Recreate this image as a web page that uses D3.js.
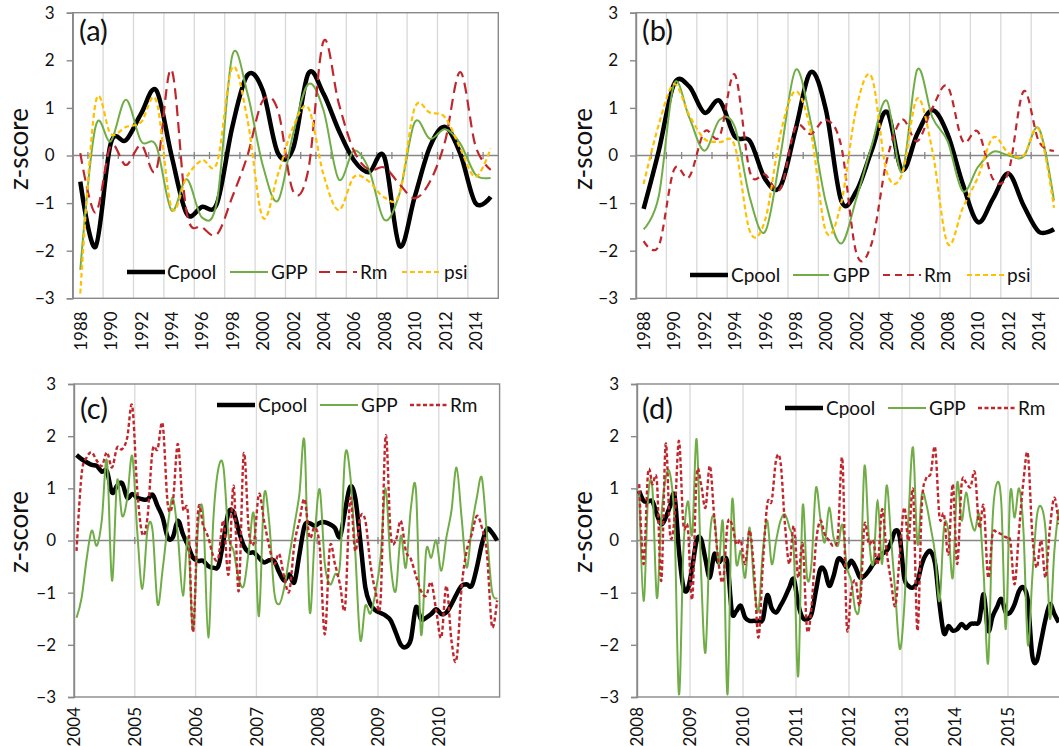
<!DOCTYPE html>
<html>
<head>
<meta charset="utf-8">
<script src="https://cdn.jsdelivr.net/npm/d3@7"></script>
<style>
  body { margin: 0; background: #fff; }
  svg { display: block; font-family: Lato, "Open Sans", sans-serif; }
</style>
</head>
<body>
<div id="chart"></div>
<script>
// ---- data ----
// annual z-scores, 1988..2015 (panels a and b)
var years = d3.range(1988, 2016);
var aCpool = [-0.55,-1.92,0.25,0.32,0.88,1.37,0.0,-1.22,-1.08,-1.0,0.6,1.69,1.37,0.05,0.15,1.72,1.3,0.53,-0.1,-0.35,-0.03,-1.9,-0.87,0.18,0.6,0.04,-1.0,-0.87];
var aGPP   = [-2.4,0.6,0.3,1.17,0.3,0.2,-1.15,-0.5,-1.3,-0.95,2.1,1.3,-0.2,-0.95,0.45,1.5,0.95,-0.5,0.1,-0.3,-1.35,-0.8,0.7,0.35,0.55,0.25,-0.4,-0.47];
var aRm    = [0.05,-1.2,0.2,-0.2,0.22,-0.3,1.8,-1.2,-1.5,-1.65,-0.87,0.0,1.15,0.95,-0.75,-0.3,2.4,1.1,0.1,-0.3,-0.25,-0.6,-0.9,-0.55,0.3,1.75,0.2,-0.3];
var aPsi   = [-2.9,1.1,0.45,0.6,0.7,1.15,-1.1,-0.45,-0.1,-0.15,1.85,0.75,-1.3,-0.4,0.6,1.0,-0.4,-1.15,-0.45,-0.55,-0.88,-0.8,1.0,0.9,0.8,0.15,-0.45,0.15];

var bCpool = [-1.12,0.1,1.5,1.45,0.9,1.15,0.4,0.3,-0.5,-0.65,0.55,1.75,0.95,-0.95,-0.75,0.1,0.92,-0.3,0.45,0.95,0.45,-0.6,-1.4,-0.9,-0.38,-1.05,-1.6,-1.55];
var bGPP   = [-1.55,-0.85,1.5,0.8,0.1,0.75,0.6,-0.9,-1.6,0.0,1.8,0.7,-1.0,-1.85,-0.9,0.2,1.15,-0.35,1.8,0.8,0.3,-0.75,-0.24,0.08,0.0,-0.02,0.57,-0.95];
var bRm    = [-1.8,-1.9,-0.3,-0.45,0.5,0.4,1.7,-0.35,-0.4,-0.7,0.6,0.45,0.75,0.2,-2.05,-1.85,-0.1,0.75,0.3,1.0,1.45,0.3,0.5,-0.5,-0.35,1.35,0.3,0.1];
var bPsi   = [-0.6,0.65,1.5,0.85,0.35,0.28,0.2,-1.6,-1.35,0.45,1.35,0.5,-1.6,-1.0,1.0,1.65,-0.35,-0.4,1.2,0.1,-1.85,-1.1,-0.45,0.38,0.05,0.0,0.55,-1.1];

// monthly z-scores, Jan 2004 .. Dec 2010 (panel c)
var cCpool = [1.64,1.56,1.5,1.45,1.43,1.32,1.33,0.92,1.05,1.1,0.82,0.89,0.82,0.79,0.79,0.88,0.66,0.44,0.06,0.06,0.38,0.12,-0.1,-0.33,
  -0.39,-0.39,-0.49,-0.52,-0.49,0.0,0.54,0.54,0.19,-0.1,-0.23,-0.23,-0.33,-0.42,-0.38,-0.39,-0.61,-0.77,-0.65,-0.8,-0.26,0.28,0.33,0.28,
  0.34,0.35,0.31,0.24,0.07,0.57,1.03,0.82,0.0,-0.9,-1.22,-1.34,-1.39,-1.44,-1.53,-1.76,-2.0,-2.04,-1.89,-1.28,-1.51,-1.48,-1.41,-1.32,
  -1.41,-1.38,-1.22,-1.03,-0.87,-0.84,-0.87,-0.52,-0.07,0.22,0.15,0.0];
var cGPP   = [-1.48,-1.1,-0.35,0.19,-0.1,0.4,1.53,-0.77,1.14,0.47,0.8,1.62,0.15,-0.93,0.2,0.2,-1.22,-0.55,0.28,0.82,0.1,-1.06,0.06,-1.73,
  0.3,0.5,-1.86,0.4,1.38,1.4,0.1,-0.2,-0.73,-0.87,-0.2,0.5,-1.45,0.85,0.38,-0.97,-1.22,-0.9,-0.3,0.3,0.9,1.88,-1.35,0.06,
  0.98,-0.45,-0.84,-0.65,-0.45,1.62,1.27,-0.2,-1.9,-1.25,-1.4,-1.0,-0.33,1.0,-0.45,-0.97,0.09,-0.52,0.63,0.95,-1.8,-0.2,-0.33,0.0,
  -0.58,0.06,0.57,1.4,0.44,-0.52,0.25,0.82,1.2,0.12,-0.97,-1.1];
var cRm    = [-0.2,1.27,1.59,1.69,1.53,1.43,1.69,1.4,1.78,1.75,1.97,2.58,0.95,0.12,0.44,1.72,1.75,2.23,0.7,0.73,1.85,0.63,0.5,-1.75,
  0.57,0.28,0.06,-0.3,-0.33,0.38,-0.65,1.05,-0.97,1.66,0.19,-0.04,0.89,0.38,-0.1,-0.45,-0.26,-0.71,-0.97,-0.07,0.38,0.79,0.06,0.25,
  -0.13,-1.8,-0.13,-0.45,-0.84,-1.28,0.8,-0.2,0.45,0.38,-0.45,-0.97,-1.16,2.0,0.12,0.0,0.38,-0.2,-0.36,-0.68,-0.97,-1.06,-0.8,-1.35,
  -1.86,-0.87,-1.92,-2.28,-0.9,-0.2,0.12,0.47,0.25,-0.26,-1.65,-1.15];

// monthly z-scores, Jan 2008 .. Dec 2015 (panel d)
var dCpool = [0.95,0.76,0.75,0.75,0.5,0.31,0.44,0.66,0.86,-0.2,-0.89,-0.93,-0.52,0.0,0.03,-0.36,-0.71,-0.26,-0.42,-0.33,-0.45,-1.38,-1.35,-1.25,
  -1.48,-1.54,-1.54,-1.54,-1.51,-1.05,-1.3,-1.38,-1.25,-1.09,-0.9,-0.74,-1.22,-1.48,-1.51,-1.41,-0.97,-0.55,-0.58,-0.87,-0.68,-0.36,-0.39,-0.52,
  -0.39,-0.52,-0.71,-0.68,-0.58,-0.45,-0.36,-0.26,-0.2,-0.04,0.19,0.06,-0.71,-0.87,-0.9,-0.79,-0.45,-0.26,-0.21,-0.45,-1.22,-1.78,-1.64,-1.73,
  -1.7,-1.6,-1.68,-1.6,-1.59,-1.54,-1.03,-1.73,-1.46,-1.28,-1.12,-1.38,-1.38,-1.22,-0.97,-0.9,-1.16,-2.21,-2.31,-1.92,-1.51,-1.22,-1.41,-1.57];
var dGPP   = [0.95,-1.16,0.82,0.98,-1.1,0.44,1.2,1.27,0.31,-2.95,-0.2,0.75,0.12,1.94,-0.58,-2.15,0.06,0.44,-0.45,0.3,-2.95,0.73,-0.45,-0.2,
  -0.71,0.25,-0.84,-1.35,-0.2,0.38,-0.45,0.0,0.38,0.5,0.25,-0.2,-2.6,0.65,-0.71,-0.45,1.0,0.44,-0.04,0.63,0.06,-0.1,0.3,-0.5,
  -0.77,-1.35,-1.09,1.42,0.06,-0.45,0.78,-0.45,1.05,0.06,-1.03,-2.08,-1.28,0.5,1.78,-0.07,0.89,0.7,0.25,-0.26,-1.16,0.25,0.19,-0.71,
  1.1,0.38,0.92,0.44,0.19,0.5,-0.65,-2.35,0.38,1.1,0.7,-1.7,0.9,0.44,1.0,0.19,-2.0,-0.71,0.44,0.65,0.2,-1.5,-0.2,0.6];
var dRm    = [1.08,-0.45,1.3,1.08,1.14,-0.77,1.85,0.12,0.44,1.91,0.31,0.25,-1.12,1.24,1.08,0.63,1.43,0.44,-0.45,-0.77,0.31,0.31,-0.07,0.0,
  -0.45,0.19,-0.58,-1.86,-0.45,0.7,0.76,1.55,1.5,0.31,-0.45,0.28,-0.71,-0.07,-1.7,-1.28,-0.07,0.38,0.12,0.0,-0.1,0.1,1.56,-1.64,
  -0.97,-0.77,-1.22,0.3,-0.07,0.0,-0.45,0.6,-0.2,-0.77,-1.25,-0.26,0.63,0.0,0.95,-1.73,0.7,1.2,1.28,1.78,0.44,0.5,-0.26,1.08,
  -0.45,1.08,1.11,1.02,1.3,0.25,0.66,-0.71,0.12,0.15,0.12,0.06,0.0,-0.84,0.19,1.14,1.66,0.12,-0.52,0.0,-0.71,0.25,0.82,0.31];

var yTicks = [-3, -2, -1, 0, 1, 2, 3];
var annualLabels = d3.range(1988, 2016, 2);
var cLabels = d3.range(2004, 2011);
var dLabels = d3.range(2008, 2016);

// ---- styles ----
var styles = {
  Cpool: { color: '#000000', width: 4.5, dash: null },
  GPP:   { color: '#70AD47', width: 2, dash: null },
  Rm:    { color: '#C0272D', width: 2.2, dash: '11,6' },
  RmB:   { color: '#C0272D', width: 2.2, dash: '7,5' },
  RmM:   { color: '#C0272D', width: 2.4, dash: '4,2.5' },
  psi:   { color: '#FFC000', width: 2.2, dash: '5,3' }
};

var svg = d3.select('#chart').append('svg').attr('width', 1059).attr('height', 746);

function annualX(i) { return years[i] + 0.5; }
function monthX(start) { return function (i) { return start + (i + 0.5) / 12; }; }

var panels = [
  { id: 'a', left: 72.7, right: 498.3, top: 12.7, bottom: 298.3, xDomain: [1988, 2016],
    pos: annualX, grid: d3.range(1990, 2016, 2), minor: d3.range(1989, 2016),
    labels: annualLabels.map(function (v) { return v + 0.5; }), labelGap: 13,
    series: [['Cpool', aCpool, 'Cpool'], ['GPP', aGPP, 'GPP'], ['Rm', aRm, 'Rm'], ['psi', aPsi, 'psi']],
    legendY: 272, legend: [[127, 165, 167], [230, 268, 271], [319, 357, 360], [402, 440, 444]],
    tag: [79, 41], title: [18.5, 149] },
  { id: 'b', left: 636, right: 1061.6, top: 12.7, bottom: 298.3, xDomain: [1988, 2016],
    pos: annualX, grid: d3.range(1990, 2016, 2), minor: d3.range(1989, 2016),
    labels: annualLabels.map(function (v) { return v + 0.5; }), labelGap: 13,
    series: [['Cpool', bCpool, 'Cpool'], ['GPP', bGPP, 'GPP'], ['Rm', bRm, 'RmB'], ['psi', bPsi, 'psi']],
    legendY: 275, legend: [[690, 728, 731], [793, 829, 833], [883, 921, 924], [967, 1004, 1007]],
    tag: [642, 41], title: [582.5, 149] },
  { id: 'c', left: 74, right: 499.6, top: 384, bottom: 697, xDomain: [2004, 2011],
    pos: monthX(2004), grid: d3.range(2005, 2011), minor: d3.range(2005, 2011),
    labels: cLabels, labelGap: 10,
    series: [['Cpool', cCpool, 'Cpool'], ['GPP', cGPP, 'GPP'], ['Rm', cRm, 'RmM']],
    legendY: 405, legend: [[217, 255, 258], [320, 358, 361], [410, 447, 450]],
    tag: [80, 419], title: [18.5, 532] },
  { id: 'd', left: 637, right: 1061, top: 384, bottom: 697, xDomain: [2008, 2016],
    pos: monthX(2008), grid: d3.range(2009, 2016), minor: d3.range(2009, 2016),
    labels: dLabels, labelGap: 10,
    series: [['Cpool', dCpool, 'Cpool'], ['GPP', dGPP, 'GPP'], ['Rm', dRm, 'RmM']],
    legendY: 408, legend: [[785, 823, 826], [888, 926, 929], [978, 1015, 1018]],
    tag: [642, 419], title: [582.5, 532] }
];

panels.forEach(function (p) {
  var x = d3.scaleLinear().domain(p.xDomain).range([p.left, p.right]);
  var y = d3.scaleLinear().domain([-3, 3]).range([p.bottom, p.top]);
  var g = svg.append('g');

  g.append('clipPath').attr('id', 'clip-' + p.id).append('rect')
    .attr('x', p.left).attr('y', p.top)
    .attr('width', p.right - p.left).attr('height', p.bottom - p.top);

  // vertical gridlines
  g.selectAll('line.grid').data(p.grid).enter().append('line')
    .attr('class', 'grid')
    .attr('x1', function (d) { return x(d); }).attr('x2', function (d) { return x(d); })
    .attr('y1', p.top).attr('y2', p.bottom)
    .attr('stroke', '#d9d9d9').attr('stroke-width', 1.3);

  // plot border
  g.append('rect')
    .attr('x', p.left).attr('y', p.top)
    .attr('width', p.right - p.left).attr('height', p.bottom - p.top)
    .attr('fill', 'none').attr('stroke', '#898989').attr('stroke-width', 1.4);

  // zero line with small crossing ticks
  g.append('line')
    .attr('x1', p.left).attr('x2', p.right).attr('y1', y(0)).attr('y2', y(0))
    .attr('stroke', '#868686').attr('stroke-width', 1.5);
  g.selectAll('line.minor').data(p.minor).enter().append('line')
    .attr('class', 'minor')
    .attr('x1', function (d) { return x(d); }).attr('x2', function (d) { return x(d); })
    .attr('y1', y(0) - 3.5).attr('y2', y(0) + 3.5)
    .attr('stroke', '#868686').attr('stroke-width', 1.3);

  // y axis
  var ya = g.append('g').attr('transform', 'translate(' + p.left + ',0)')
    .call(d3.axisLeft(y).tickValues(yTicks).tickSize(6).tickPadding(12).tickFormat(d3.format('d')));
  ya.select('.domain').attr('stroke', '#898989').attr('stroke-width', 1.4);
  ya.selectAll('.tick line').attr('stroke', '#898989').attr('stroke-width', 1.4);
  ya.selectAll('text').attr('font-size', 17).attr('fill', '#111').style('font-family', 'Lato, sans-serif');

  // x axis labels, rotated
  var xa = g.append('g').attr('transform', 'translate(0,' + p.bottom + ')')
    .call(d3.axisBottom(x).tickValues(p.labels).tickSize(0)
      .tickFormat(function (d) { return String(Math.floor(d)); }));
  xa.select('.domain').remove();
  xa.selectAll('text')
    .attr('transform', 'rotate(-90)')
    .attr('x', -p.labelGap).attr('y', 0).attr('dy', '0.35em')
    .style('text-anchor', 'end')
    .attr('font-size', 17).attr('fill', '#111').style('font-family', 'Lato, sans-serif');

  // series lines
  var plot = g.append('g').attr('clip-path', 'url(#clip-' + p.id + ')');
  p.series.forEach(function (s) {
    var st = styles[s[2]];
    var line = d3.line()
      .x(function (d, i) { return x(p.pos(i)); })
      .y(function (d) { return y(d); })
      .curve(d3.curveCardinal.tension(0));
    plot.append('path').datum(s[1])
      .attr('d', line)
      .attr('fill', 'none')
      .attr('stroke', st.color)
      .attr('stroke-width', st.width)
      .attr('stroke-linejoin', 'round')
      .attr('stroke-dasharray', st.dash);
  });

  // legend
  var lg = g.append('g');
  p.series.forEach(function (s, i) {
    var st = styles[s[2]], pos = p.legend[i];
    lg.append('line')
      .attr('x1', pos[0]).attr('x2', pos[1]).attr('y1', p.legendY).attr('y2', p.legendY)
      .attr('stroke', st.color).attr('stroke-width', st.width)
      .attr('stroke-dasharray', st.dash);
    lg.append('text')
      .attr('x', pos[2]).attr('y', p.legendY).attr('dy', '0.35em')
      .attr('font-size', 19).attr('fill', '#111')
      .text(s[0]);
  });

  // panel tag and axis title
  g.append('text').attr('x', p.tag[0]).attr('y', p.tag[1])
    .attr('font-size', 29).attr('fill', '#111').text('(' + p.id + ')');
  g.append('text')
    .attr('transform', 'translate(' + p.title[0] + ',' + p.title[1] + ') rotate(-90)')
    .attr('dy', '0.35em').style('text-anchor', 'middle')
    .attr('font-size', 26).attr('fill', '#111').text('z-score');
});
</script>
</body>
</html>
